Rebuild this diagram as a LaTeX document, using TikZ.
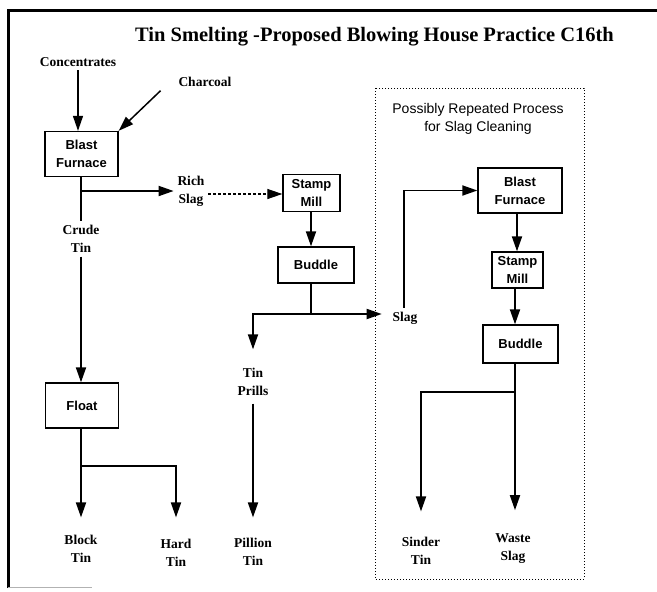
\documentclass[tikz,border=0pt]{standalone}
\usepackage{fontspec}
\setmainfont{Liberation Serif}
\setsansfont{Liberation Sans}
\usepackage{tikz}
\usetikzlibrary{arrows}
\usetikzlibrary{arrows.meta}
\usetikzlibrary{positioning}

\begin{document}
\begin{tikzpicture}[x=1pt,y=-1pt,->,>={Triangle[length=15pt,width=10pt]},
                    line width=1.8pt,
                    proc node/.style={draw,line width=1.3pt,align=center,inner sep=0pt,
                                      font=\sffamily\bfseries\fontsize{13}{18}\selectfont},
                    out node/.style={align=center,inner sep=3pt,
                                     font=\bfseries\fontsize{13.5}{18}\selectfont}]
  \useasboundingbox (0,0) rectangle (657,592);

  % frame
  \draw[-,line width=3pt] (8,588) -- (8,10) -- (657,10);
  \draw[-,gray!60,line width=0.8pt] (8,587) -- (92,587);
  \node (title) at (374.5,37) {\bfseries\fontsize{20.5}{24}\selectfont Tin Smelting -Proposed Blowing House Practice C16th};

  % slag cleaning box
  \draw[-,dotted,line width=1pt] (375,88) rectangle (584,579);
  \node[align=center,font=\sffamily\fontsize{14}{18}\selectfont] (rep) at (478,119)
       {Possibly Repeated Process\\for Slag Cleaning};

  % processes
  \node[proc node,minimum width=73pt,minimum height=45pt] (bf1) at (81.5,154) {Blast\\Furnace};
  \node[proc node,minimum width=57pt,minimum height=37pt] (sm1) at (311.5,193) {Stamp\\Mill};
  \node[proc node,minimum width=76pt,minimum height=36pt] (bud1) at (316,265) {Buddle};
  \node[proc node,minimum width=73pt,minimum height=45pt] (float) at (82,405.5) {Float};
  \node[proc node,minimum width=84pt,minimum height=45pt] (bf2) at (520,190.5) {Blast\\Furnace};
  \node[proc node,minimum width=51pt,minimum height=36pt] (sm2) at (517.5,270) {Stamp\\Mill};
  \node[proc node,minimum width=75pt,minimum height=38pt] (bud2) at (520.5,344) {Buddle};

  % materials
  \node[out node] (conc) at (78,62) {Concentrates};
  \node[out node] (char) at (205,82) {Charcoal};
  \node[out node] (rich) at (191,191) {Rich\\Slag};
  \node[out node,fill=white] (crude) at (81,239) {Crude\\Tin};
  \node[out node] (slag) at (405,318) {Slag};
  \node[out node] (prills) at (253,382) {Tin\\Prills};
  \node[out node] (pillion) at (253,552) {Pillion\\Tin};
  \node[out node] (block) at (81,549) {Block\\Tin};
  \node[out node] (hard) at (176,553) {Hard\\Tin};
  \node[out node] (sinder) at (421,551) {Sinder\\Tin};
  \node[out node] (waste) at (513,549) {Waste\\Slag};

  \coordinate (j1) at (81,191);
  \coordinate (j2) at (311,314);
  \coordinate (j3) at (81,466);
  \coordinate (j4) at (515,392);

  % flows
  \draw[line width=1.3pt] (conc.south) -- (conc.south |- bf1.north);
  \draw[line width=1.5pt] ([xshift=-14pt]char.south west) -- (bf1.north east);
  \draw[-] (bf1.south -| j1) -- (crude);
  \draw (crude.south -| j1) -- (float.north -| j1);
  \draw (j1) -- (rich.west |- j1);
  \draw[line width=1.1pt,densely dashed] ([yshift=-3pt]rich.east) -- ([yshift=-1pt]sm1.west);
  \draw (sm1.south -| j2) -- (bud1.north -| j2);
  \draw[-] (bud1.south -| j2) -- (j2);
  \draw[shorten >=15pt] (j2) -| (prills.north);
  \draw[shorten >=7pt] (j2) -- (j2 -| slag.west);
  \draw (slag.north -| 404,0) |- (bf2.west);
  \draw[shorten <=4pt,shorten >=17pt] (prills.south) -- (pillion.north);
  \draw[shorten >=14pt] (float.south -| j3) -- (block.north);
  \draw[shorten >=18pt] (j3) -| (hard.north);
  \draw (bf2.south -| 517,0) -- (sm2.north -| 517,0);
  \draw (sm2.south -| j4) -- (bud2.north -| j4);
  \draw[shorten >=22pt] (j4) -| (sinder.north);
  \draw[shorten >=20pt] (bud2.south -| j4) -- (j4 |- waste.north);
\end{tikzpicture}
\end{document}
